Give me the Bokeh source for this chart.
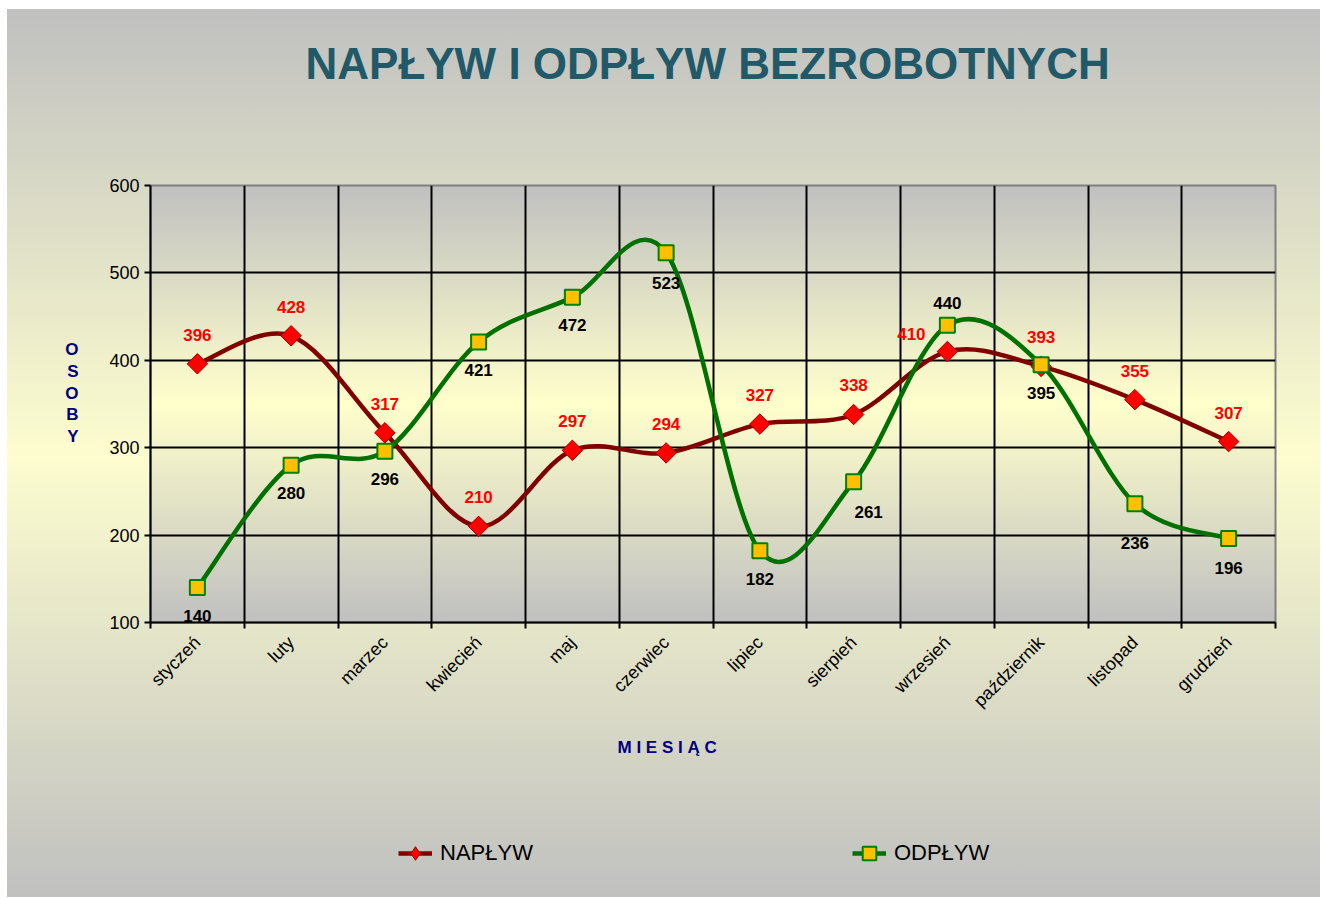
import numpy as np
from bokeh.plotting import figure
from bokeh.layouts import column
from bokeh.models import (ColumnDataSource, FixedTicker, LabelSet, Legend,
                          LegendItem, Range1d, Title)
from bokeh.core.properties import value
from bokeh.embed import file_html
from bokeh.resources import INLINE

# ---------------- data ----------------
months = ["styczeń", "luty", "marzec", "kwiecień", "maj", "czerwiec", "lipiec",
          "sierpień", "wrzesień", "październik", "listopad", "grudzień"]
naplyw = [396, 428, 317, 210, 297, 294, 327, 338, 410, 393, 355, 307]
odplyw = [140, 280, 296, 421, 472, 523, 182, 261, 440, 395, 236, 196]
y_ticks = [100, 200, 300, 400, 500, 600]

# label placement tweaks (screen px), kept apart from the data
nap_dx = [0, 0, 0, 0, 0, 0, 0, 0, -36, 0, 0, 0]
nap_dy = [29, 29, 29, 29, 29, 29, 29, 29, 18, 29, 29, 29]
odp_dx = [0, 0, 0, 0, 0, 0, 0, 15, 0, 0, 0, 0]
odp_dy = [-28, -28, -28, -28, -28, -30, -28, -30, 22, -28, -39, -29]

# ---------------- layout ----------------
W = 1320
H1, H2 = 790, 107                      # main chart / legend strip
FL, FR, FT, FB = 150, 1275, 185, 622   # frame edges (px)
FW, FH = FR - FL, FB - FT
FONT = "Liberation Sans"

p = figure(width=W, height=H1, output_backend="svg", toolbar_location=None,
           x_range=Range1d(0, len(months)), y_range=Range1d(100, 600),
           min_border_left=FL, min_border_right=W - FR,
           min_border_top=FT, min_border_bottom=H1 - FB)
p.title.text = ""
p.border_fill_alpha = 0
p.background_fill_alpha = 0
p.outline_line_color = "#808080"
p.outline_line_width = 2

# title (spacer nearest the frame, then the real title)
p.add_layout(Title(text=" ", text_font_size="10px", standoff=85), "above")
p.add_layout(Title(text="NAPŁYW I ODPŁYW BEZROBOTNYCH", align="left", offset=155,
                   standoff=0, text_font=FONT, text_font_style="bold",
                   text_font_size="44px", text_color="#215968"), "above")

# axes
xc = [i + 0.5 for i in range(len(months))]
p.xaxis.ticker = FixedTicker(ticks=xc, minor_ticks=list(range(len(months) + 1)))
p.xaxis.major_label_overrides = {x: m for x, m in zip(xc, months)}
p.xaxis.major_label_orientation = np.pi / 4
p.xaxis.major_tick_out = 0
p.xaxis.major_tick_in = 0
p.xaxis.minor_tick_out = 6
p.xaxis.minor_tick_in = 0
p.xaxis.minor_tick_line_color = "black"
p.xaxis.minor_tick_line_width = 2
p.xaxis.major_label_standoff = 11
p.xaxis.major_label_text_font = FONT
p.xaxis.major_label_text_font_size = "18px"
p.xaxis.major_label_text_color = "black"
p.xaxis.axis_line_color = "black"
p.xaxis.axis_line_width = 2

# x-axis title, placed under the month labels
p.add_layout(Title(text="M I E S I Ą C", align="left", offset=467, standoff=28,
                   text_font=FONT, text_font_style="bold", text_font_size="17px",
                   text_color="#000080"), "below")

p.yaxis.ticker = FixedTicker(ticks=y_ticks)
p.yaxis.major_tick_out = 6
p.yaxis.major_tick_in = 0
p.yaxis.major_tick_line_width = 2
p.yaxis.minor_tick_out = 0
p.yaxis.minor_tick_in = 0
p.yaxis.axis_line_color = "black"
p.yaxis.axis_line_width = 2
p.yaxis.major_label_standoff = 5
p.yaxis.major_label_text_font = FONT
p.yaxis.major_label_text_font_size = "18px"
p.yaxis.major_label_text_color = "black"
p.yaxis.axis_label = "O\nS\nO\nB\nY\n "
p.yaxis.axis_label_orientation = "horizontal"
p.yaxis.axis_label_standoff = 28
p.yaxis.axis_label_text_font = FONT
p.yaxis.axis_label_text_font_style = "bold"
p.yaxis.axis_label_text_font_size = "17px"
p.yaxis.axis_label_text_line_height = 1.15
p.yaxis.axis_label_text_color = "#000080"

# grid
p.xgrid.ticker = FixedTicker(ticks=list(range(1, len(months))))
p.ygrid.ticker = FixedTicker(ticks=y_ticks[1:-1])
for g in (p.xgrid, p.ygrid):
    g.grid_line_color = "black"
    g.grid_line_width = 2


# smooth (Excel-like) curves through the data, via Bezier segments
def bezier_source(xs, ys):
    n = len(xs)
    pts = list(zip(xs, ys))
    d = dict(x0=[], y0=[], x1=[], y1=[], cx0=[], cy0=[], cx1=[], cy1=[])
    for i in range(n - 1):
        p0 = pts[max(i - 1, 0)]
        p1 = pts[i]
        p2 = pts[i + 1]
        p3 = pts[min(i + 2, n - 1)]
        d["x0"].append(p1[0]); d["y0"].append(p1[1])
        d["x1"].append(p2[0]); d["y1"].append(p2[1])
        d["cx0"].append(p1[0] + (p2[0] - p0[0]) / 6)
        d["cy0"].append(p1[1] + (p2[1] - p0[1]) / 6)
        d["cx1"].append(p2[0] - (p3[0] - p1[0]) / 6)
        d["cy1"].append(p2[1] - (p3[1] - p1[1]) / 6)
    return ColumnDataSource(d)


src_n = ColumnDataSource(dict(x=xc, y=naplyw, t=[str(v) for v in naplyw], dx=nap_dx, dy=nap_dy))
src_o = ColumnDataSource(dict(x=xc, y=odplyw, t=[str(v) for v in odplyw], dx=odp_dx, dy=odp_dy))
bsrc_n = bezier_source(xc, naplyw)
bsrc_o = bezier_source(xc, odplyw)

BZ = dict(x0="x0", y0="y0", x1="x1", y1="y1", cx0="cx0", cy0="cy0", cx1="cx1", cy1="cy1")
LINE_N = dict(line_color="#800000", line_width=4.5)
LINE_O = dict(line_color="#007000", line_width=4.5)
MARK_N = dict(fill_color="#ff0000", line_color="#a00000", line_width=1)
MARK_O = dict(marker="square", fill_color="#ffc000", line_color="#008000", line_width=2)

p.bezier(source=bsrc_n, **BZ, **LINE_N)
p.scatter("x", "y", source=src_n, size=14.5, marker="square", angle=np.pi / 4, **MARK_N)
p.bezier(source=bsrc_o, **BZ, **LINE_O)
p.scatter("x", "y", source=src_o, size=15, **MARK_O)

for src, col in ((src_n, "#ff0000"), (src_o, "black")):
    p.add_layout(LabelSet(x="x", y="y", text="t", x_offset="dx", y_offset="dy", source=src,
                          text_align="center", text_baseline="middle", text_font=value(FONT),
                          text_font_size="17px", text_font_style="bold", text_color=col))

# ---------------- legend strip ----------------
lg = figure(width=W, height=H2, output_backend="svg", toolbar_location=None,
            x_range=Range1d(100, 101), y_range=Range1d(100, 101),
            x_axis_location=None, y_axis_location=None, min_border=0)
lg.title.text = ""
lg.grid.visible = False
lg.outline_line_color = None
lg.border_fill_alpha = 0
lg.background_fill_alpha = 0
# the same series, outside this strip's view: only their legend glyphs show
lb_n = lg.bezier(source=bsrc_n, **BZ, **LINE_N)
ls_n = lg.scatter("x", "y", source=src_n, size=14.5, marker="diamond", **MARK_N)
lb_o = lg.bezier(source=bsrc_o, **BZ, **LINE_O)
ls_o = lg.scatter("x", "y", source=src_o, size=15, **MARK_O)

legend = Legend(items=[LegendItem(label="NAPŁYW", renderers=[lb_n, ls_n]),
                       LegendItem(label="ODPŁYW", renderers=[lb_o, ls_o])],
                orientation="horizontal", location=(398 - FL, 27),
                padding=0, margin=0, spacing=319, border_line_alpha=0,
                background_fill_alpha=0, glyph_width=34, glyph_height=34,
                label_height=34, label_standoff=8, label_text_font=FONT,
                label_text_font_size="22px", label_text_color="black")
lg.add_layout(legend)

page = column(p, lg, spacing=0)
page.styles = {
    "background": (
        f"linear-gradient(to bottom, #c0c0c0 0%, #ffffcc 50%, #c0c0c0 100%) "
        f"{FL}px {FT}px / {FW}px {FH}px no-repeat, "
        "linear-gradient(to bottom, #c0c0c0 0%, #fdfdcf 50%, #c0c0c0 100%) "
        "7px 9px / 1315px 890px no-repeat, #ffffff"
    )
}

open("out.html", "w").write(file_html(page, INLINE))
